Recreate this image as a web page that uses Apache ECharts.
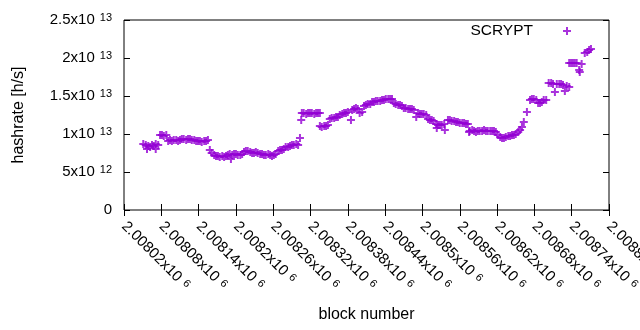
<!DOCTYPE html>
<html>
<head>
<meta charset="utf-8">
<title>SCRYPT hashrate</title>
<script src="https://cdn.jsdelivr.net/npm/echarts@6/dist/echarts.min.js"></script>
<style>
  html, body { margin: 0; padding: 0; background: #fff; }
  #chart { width: 640px; height: 330px; }
</style>
</head>
<body>
<div id="chart"></div>
<script>
// block number / estimated hashrate (units of 1e12 h/s)
const blocks = [
  2008051, 2008057, 2008055, 2008059, 2008062, 2008065, 2008068, 2008071, 2008071, 2008075,
  2008078, 2008081, 2008084, 2008088,
  2008091, 2008094, 2008097, 2008100, 2008104, 2008107, 2008110, 2008113, 2008116, 2008120,
  2008123, 2008126, 2008129, 2008133, 2008136, 2008139, 2008142, 2008145, 2008149, 2008152, 2008155,
  2008158, 2008161, 2008165,
  2008168, 2008171, 2008174, 2008178, 2008181, 2008184, 2008187, 2008190, 2008192, 2008194,
  2008197, 2008200, 2008203, 2008207, 2008210, 2008213, 2008216, 2008219, 2008223, 2008226,
  2008229, 2008232, 2008235, 2008239, 2008242, 2008245, 2008248, 2008252, 2008255, 2008258,
  2008261, 2008264, 2008268, 2008271, 2008274, 2008277, 2008280, 2008284, 2008287, 2008290,
  2008293, 2008297, 2008300, 2008303, 2008305,
  2008306, 2008309, 2008313, 2008316, 2008319, 2008322, 2008326, 2008329, 2008332, 2008335, 2008335,
  2008338, 2008342, 2008345, 2008348,
  2008351, 2008354, 2008358, 2008361, 2008364,
  2008367, 2008371, 2008374, 2008377, 2008380, 2008385,
  2008387, 2008390, 2008393, 2008396, 2008399, 2008403,
  2008406, 2008409, 2008412, 2008416, 2008419, 2008422, 2008425, 2008428, 2008432,
  2008435, 2008438, 2008441, 2008445, 2008448, 2008451,
  2008454, 2008457, 2008461, 2008464, 2008467,
  2008470, 2008473, 2008477, 2008480, 2008483, 2008486, 2008490,
  2008493, 2008496, 2008499, 2008502, 2008506,
  2008509, 2008512, 2008515, 2008518,
  2008522, 2008523, 2008525, 2008528, 2008531, 2008535, 2008536,
  2008541, 2008544, 2008547, 2008551, 2008554, 2008557, 2008560, 2008564, 2008567, 2008570, 2008573,
  2008575, 2008576, 2008580, 2008583, 2008586, 2008589, 2008592, 2008596, 2008599, 2008602, 2008605,
  2008609, 2008612, 2008615, 2008618,
  2008621, 2008625, 2008628, 2008631, 2008634, 2008638, 2008641, 2008644, 2008647, 2008650,
  2008654, 2008657, 2008660, 2008663, 2008668,
  2008673, 2008676, 2008679, 2008683, 2008686, 2008689, 2008692, 2008695, 2008699,
  2008703, 2008707, 2008710, 2008713, 2008716, 2008720, 2008723, 2008726, 2008729, 2008732, 2008736,
  2008736, 2008739, 2008742, 2008745, 2008748, 2008752, 2008753, 2008756,
  2008761, 2008765, 2008768, 2008771
];
const hashrate = [
  8.68, 8.03, 8.55, 8.42, 8.29, 8.55, 8.42, 8.68, 8.03, 8.55,
  9.87, 9.87, 9.74, 9.87,
  9.08, 9.21, 9.08, 9.21, 9.21, 9.08, 9.21, 9.34, 9.34, 9.21,
  9.34, 9.34, 9.21, 9.21, 9.08, 9.08, 9.08, 8.95, 9.08, 9.08, 9.21,
  7.89, 7.50, 7.24,
  7.11, 7.11, 6.97, 7.11, 6.97, 7.11, 7.24, 7.37, 6.71, 7.24,
  7.37, 7.37, 7.24, 7.24, 7.37, 7.63, 7.76, 7.76, 7.63, 7.50,
  7.50, 7.63, 7.50, 7.37, 7.37, 7.24, 7.24, 7.37, 7.24, 7.11,
  7.24, 7.37, 7.76, 7.89, 7.89, 8.03, 8.29, 8.29, 8.42, 8.55,
  8.55, 8.68, 8.55, 9.47, 11.84,
  12.76, 12.76, 12.63, 12.76, 12.76, 12.76, 12.63, 12.76, 12.76, 12.76, 11.05,
  10.92, 11.05, 11.05, 11.18,
  11.97, 12.11, 12.11, 12.24, 12.24,
  12.50, 12.63, 12.76, 12.76, 12.89, 11.84,
  13.16, 13.29, 13.42, 13.29, 12.76, 12.89,
  13.68, 13.82, 13.95, 13.95, 14.21, 14.21, 14.34, 14.34, 14.34,
  14.47, 14.47, 14.61, 14.61, 14.61, 14.61,
  14.08, 13.95, 13.82, 13.82, 13.68,
  13.42, 13.42, 13.29, 13.29, 13.29, 13.16, 12.24,
  12.76, 12.63, 12.63, 12.63, 12.50,
  11.97, 11.84, 11.84, 11.71,
  11.32, 10.79, 11.18, 11.18, 11.18, 11.32, 10.53,
  11.84, 11.84, 11.71, 11.71, 11.58, 11.58, 11.45, 11.45, 11.45, 11.32, 11.32,
  10.26, 10.39, 10.53, 10.39, 10.26, 10.39, 10.39, 10.39, 10.53, 10.39, 10.39,
  10.39, 10.39, 10.39, 10.26,
  9.87, 9.61, 9.47, 9.47, 9.61, 9.74, 9.74, 9.87, 9.87, 10.00,
  10.26, 10.53, 10.92, 11.58, 12.89,
  14.47, 14.61, 14.61, 14.47, 14.08, 14.08, 14.21, 14.47, 14.47,
  16.71, 16.71, 16.58, 15.53, 16.58, 16.58, 16.58, 16.45, 15.66, 16.32, 16.18,
  19.34, 19.34, 19.34, 19.34, 19.34, 18.42, 18.16, 19.21,
  20.66, 20.79, 21.05, 21.18
];

// axis ranges as in the original plot
const xMin = 2008020, xMax = 2008800, xStep = 60;
const yMin = 0, yMax = 2.5e13, yStep = 5e12;

const PURPLE = '#9400d3';
const FONT = '"Liberation Sans", Arial, sans-serif';
const PLUS = 'path://M0,4L8,4M4,0L4,8';

// "2.5x10^13" style labels
function sciLabel(v) {
  if (v === 0) return '0';
  const exp = Math.floor(Math.log10(v) + 1e-9);
  const mant = parseFloat((v / Math.pow(10, exp)).toPrecision(6));
  return mant + 'x10{sup|' + exp + '}';
}

const supStyle = {
  sup: { fontSize: 11, fontFamily: FONT, color: '#000', verticalAlign: 'top', padding: [0, 0, 0, 5] }
};

const chart = echarts.init(document.getElementById('chart'));

chart.setOption({
  animation: false,
  textStyle: { fontFamily: FONT },
  grid: {
    left: 124, right: 31, top: 20, bottom: 120,
    containLabel: false, outerBoundsMode: 'none',
    show: true, borderColor: '#000', borderWidth: 1
  },
  legend: {
    data: ['SCRYPT'],
    right: 68, top: 23,
    align: 'right',
    padding: 0,
    itemWidth: 58, itemHeight: 8,
    selectedMode: false,
    textStyle: { fontSize: 15.5, color: '#000', fontFamily: FONT }
  },
  xAxis: [
    {
      type: 'value', min: xMin, max: xMax, interval: xStep, position: 'bottom',
      name: 'block number', nameLocation: 'middle', nameGap: 97,
      nameTextStyle: { fontSize: 16, color: '#000', fontFamily: FONT },
      axisLine: { show: false },
      axisTick: { inside: true, length: 6, lineStyle: { color: '#000' } },
      splitLine: { show: false },
      axisLabel: {
        rotate: -45, margin: 14, fontSize: 15, color: '#000', fontFamily: FONT,
        showMinLabel: true, showMaxLabel: true, hideOverlap: false,
        formatter: sciLabel, rich: supStyle
      }
    },
    {
      type: 'value', min: xMin, max: xMax, interval: xStep, position: 'top',
      axisLine: { show: false },
      axisTick: { inside: true, length: 6, lineStyle: { color: '#000' } },
      splitLine: { show: false },
      axisLabel: { show: false }
    }
  ],
  yAxis: [
    {
      type: 'value', min: yMin, max: yMax, interval: yStep, position: 'left',
      name: 'hashrate [h/s]', nameLocation: 'middle', nameGap: 97,
      nameTextStyle: { fontSize: 16, color: '#000', fontFamily: FONT },
      axisLine: { show: false },
      axisTick: { inside: true, length: 6, lineStyle: { color: '#000' } },
      splitLine: { show: false },
      axisLabel: {
        margin: 12, fontSize: 15, color: '#000', fontFamily: FONT,
        formatter: sciLabel, rich: supStyle
      }
    },
    {
      type: 'value', min: yMin, max: yMax, interval: yStep, position: 'right',
      axisLine: { show: false },
      axisTick: { inside: true, length: 6, lineStyle: { color: '#000' } },
      splitLine: { show: false },
      axisLabel: { show: false }
    }
  ],
  series: [
    {
      name: 'SCRYPT',
      type: 'scatter',
      symbol: PLUS,
      symbolSize: 8,
      itemStyle: { color: PURPLE, borderColor: PURPLE, borderWidth: 2 },
      emphasis: { disabled: true },
      data: blocks.map((b, i) => [b, hashrate[i] * 1e12])
    }
  ]
});
</script>
</body>
</html>
